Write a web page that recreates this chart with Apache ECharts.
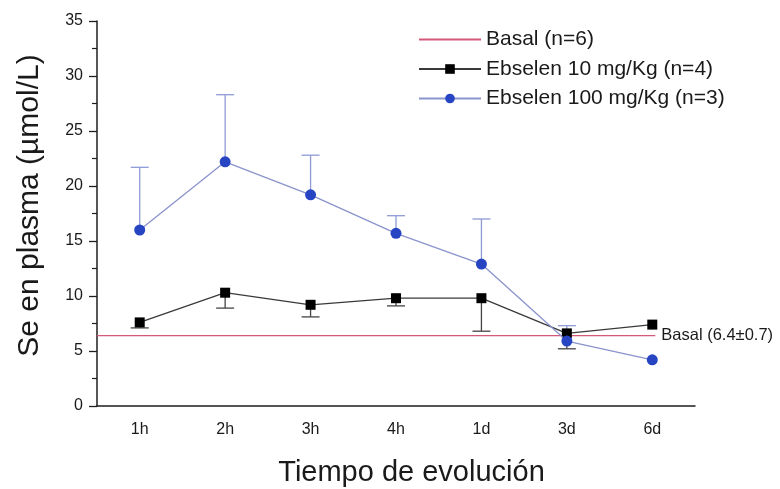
<!DOCTYPE html>
<html>
<head>
<meta charset="utf-8">
<script src="https://cdn.jsdelivr.net/npm/echarts@6/dist/echarts.min.js"></script>
<style>
  html, body { margin: 0; padding: 0; background: #fff; }
  #chart { width: 780px; height: 489px; }
</style>
</head>
<body>
<div id="chart"></div>
<script>
// Plasma selenium (µmol/L) after Ebselen dosing, by time since administration
const categories = ['1h', '2h', '3h', '4h', '1d', '3d', '6d'];

const dose10Name = 'Ebselen 10 mg/Kg (n=4)';
const dose10 = [7.6, 10.3, 9.2, 9.8, 9.8, 6.6, 7.4];
const dose10Lower = [7.1, 8.9, 8.1, 9.1, 6.8, 5.2, null];

const dose100Name = 'Ebselen 100 mg/Kg (n=3)';
const dose100 = [16.0, 22.2, 19.2, 15.7, 12.9, 5.9, 4.2];
const dose100Upper = [21.7, 28.3, 22.8, 17.3, 17.0, 7.3, null];
const dose100Marks = ['', '++', '++', '', '', '', ''];

const basalName = 'Basal (n=6)';
const basalMean = 6.4;
const basalSd = 0.7;

const yMin = 0;
const yMax = 35;
const yStep = 5;

const FONT = '"Liberation Sans", Arial, Helvetica, sans-serif';
const RED = '#d6587a';
const BLUE_LINE = '#8a93cc';
const BLUE_DOT = '#2744c2';
const BLACK_LINE = '#3a3a3a';
const AXIS = '#1e1e1e';

// error bar rows: [category index, mean, bound, annotation]
function errorRows(means, bounds, marks) {
  const rows = [];
  means.forEach(function (m, i) {
    if (bounds[i] != null) rows.push([i, m, bounds[i], marks ? marks[i] : '']);
  });
  return rows;
}

function renderErrorBar(color) {
  return function (params, api) {
    const p0 = api.coord([api.value(0), api.value(1)]);
    const p1 = api.coord([api.value(0), api.value(2)]);
    const half = 9;
    const children = [
      { type: 'line', shape: { x1: p0[0], y1: p0[1], x2: p1[0], y2: p1[1] },
        style: { stroke: color, lineWidth: 1.3 } },
      { type: 'line', shape: { x1: p1[0] - half, y1: p1[1], x2: p1[0] + half, y2: p1[1] },
        style: { stroke: color, lineWidth: 1.3 } }
    ];
    const mark = params.data && params.data[3];
    if (mark) {
      children.push({
        type: 'text', x: p1[0], y: p1[1] - 12,
        style: { text: mark, font: 'bold 17px ' + FONT, fill: '#111',
                 align: 'center', verticalAlign: 'middle' }
      });
    }
    return { type: 'group', children: children };
  };
}

const chart = echarts.init(document.getElementById('chart'), null, { renderer: 'canvas' });

chart.setOption({
  animation: false,
  backgroundColor: '#ffffff',
  textStyle: { fontFamily: FONT },
  grid: { left: 97, right: 85, top: 21, bottom: 83, containLabel: false, outerBoundsMode: 'none' },
  legend: {
    orient: 'vertical',
    left: 413,
    top: 24,
    itemWidth: 62,
    itemHeight: 12,
    itemGap: 8.5,
    textStyle: { fontSize: 21, lineHeight: 21, color: '#1a1a1a', fontFamily: FONT },
    data: [
      { name: basalName, itemStyle: { opacity: 0 } },
      { name: dose10Name },
      { name: dose100Name }
    ]
  },
  xAxis: {
    type: 'category',
    data: categories,
    boundaryGap: true,
    name: 'Tiempo de evolución',
    nameLocation: 'middle',
    nameGap: 52,
    nameTextStyle: { fontSize: 29, color: '#1a1a1a', fontFamily: FONT, padding: [0, 0, 0, 31] },
    axisLine: { lineStyle: { color: AXIS, width: 1.5 } },
    axisTick: { alignWithLabel: true, length: 8, lineStyle: { color: AXIS, width: 1.3 } },
    axisLabel: { fontSize: 16, color: '#1a1a1a', margin: 16, fontFamily: FONT },
    splitLine: { show: false }
  },
  yAxis: {
    type: 'value',
    min: yMin,
    max: yMax,
    interval: yStep,
    name: 'Se en plasma (µmol/L)',
    nameLocation: 'middle',
    nameGap: 52,
    nameRotate: 90,
    nameTextStyle: { fontSize: 30, color: '#1a1a1a', fontFamily: FONT, padding: [0, 0, 0, 16] },
    axisLine: { show: true, lineStyle: { color: AXIS, width: 1.5 } },
    axisTick: { show: true, length: 8, lineStyle: { color: AXIS, width: 1.3 } },
    minorTick: { show: true, splitNumber: 2, length: 5, lineStyle: { color: AXIS, width: 1.2 } },
    axisLabel: { fontSize: 16, color: '#1a1a1a', margin: 14, fontFamily: FONT },
    splitLine: { show: false }
  },
  series: [
    {
      // legend entry for the basal reference
      name: basalName,
      type: 'line',
      data: [],
      symbol: 'none',
      lineStyle: { color: RED, width: 1.3 },
      itemStyle: { color: RED }
    },
    {
      name: dose10Name,
      type: 'line',
      data: dose10,
      z: 4,
      symbol: 'rect',
      symbolSize: 10,
      lineStyle: { color: BLACK_LINE, width: 1.3 },
      itemStyle: { color: '#000000' }
    },
    {
      name: dose100Name,
      type: 'line',
      data: dose100,
      z: 5,
      symbol: 'circle',
      symbolSize: 11,
      lineStyle: { color: BLUE_LINE, width: 1.3 },
      itemStyle: { color: BLUE_DOT }
    },
    {
      // basal reference: from the axis to the last time point, with its value label
      name: basalName,
      type: 'custom',
      silent: true,
      z: 1,
      data: [[categories.length - 1, basalMean]],
      renderItem: function (params, api) {
        const end = api.coord([api.value(0), api.value(1)]);
        return {
          type: 'group',
          children: [
            { type: 'line',
              shape: { x1: params.coordSys.x, y1: end[1], x2: end[0] + 3, y2: end[1] },
              style: { stroke: RED, lineWidth: 1.3 } },
            { type: 'text', x: end[0] + 9, y: end[1],
              style: { text: 'Basal (' + basalMean + '±' + basalSd + ')',
                       font: '16.5px ' + FONT, fill: '#1a1a1a',
                       align: 'left', verticalAlign: 'middle' } }
          ]
        };
      }
    },
    {
      name: dose10Name,
      type: 'custom',
      silent: true,
      z: 2,
      data: errorRows(dose10, dose10Lower, null),
      renderItem: renderErrorBar('#444444')
    },
    {
      name: dose100Name,
      type: 'custom',
      silent: true,
      z: 2,
      data: errorRows(dose100, dose100Upper, dose100Marks),
      renderItem: renderErrorBar('#8e9ad4')
    }
  ]
});
</script>
</body>
</html>
